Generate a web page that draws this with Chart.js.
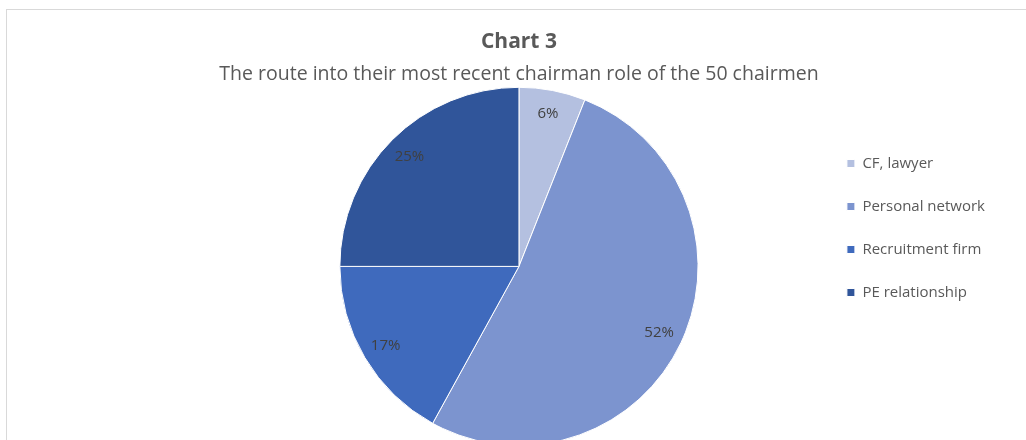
<!DOCTYPE html>
<html>
<head>
<meta charset="utf-8">
<script src="https://cdn.jsdelivr.net/npm/chart.js@4/dist/chart.umd.min.js"></script>
<style>
  html, body { margin: 0; padding: 0; background: #fff; overflow: hidden; }
  #wrap { position: relative; width: 1026px; height: 446px; }
  #frame {
    position: absolute; left: 6px; top: 9px; right: 0; bottom: 0;
    border-top: 1px solid #d9d9d9; border-left: 1px solid #d9d9d9;
    pointer-events: none;
  }
</style>
</head>
<body>
<div id="wrap">
  <canvas id="chart" width="1026" height="446"></canvas>
  <div id="frame"></div>
</div>
<script>
const categories = ['CF, lawyer', 'Personal network', 'Recruitment firm', 'PE relationship'];
const shares = [6, 52, 17, 25];
const sliceColors = ['#b4c0e0', '#7c94cf', '#3f6abd', '#30559a'];

const FONT = '"Open Sans", Lato, sans-serif';

// percentage labels inside each slice, like Excel's "best fit"
const sliceLabels = {
    id: 'sliceLabels',
    afterDatasetsDraw(chart) {
        const { ctx } = chart;
        const meta = chart.getDatasetMeta(0);
        ctx.save();
        ctx.font = '15px ' + FONT;
        ctx.fillStyle = '#404040';
        ctx.textAlign = 'center';
        ctx.textBaseline = 'middle';
        meta.data.forEach((arc, i) => {
            const { x, y, startAngle, endAngle, outerRadius } = arc.getProps(
                ['x', 'y', 'startAngle', 'endAngle', 'outerRadius'], true);
            const mid = (startAngle + endAngle) / 2;
            const r = outerRadius * 0.865;
            ctx.fillText(shares[i] + '%', x + Math.cos(mid) * r, y + Math.sin(mid) * r);
        });
        ctx.restore();
    }
};

new Chart(document.getElementById('chart'), {
    type: 'pie',
    data: {
        labels: categories,
        datasets: [{
            data: shares,
            backgroundColor: sliceColors,
            borderColor: '#ffffff',
            borderWidth: 1,
        }],
    },
    options: {
        responsive: false,
        animation: false,
        layout: { padding: { left: 219, right: 31, top: 10, bottom: 0 } },
        plugins: {
            title: {
                display: true,
                fullSize: false,
                text: 'Chart 3',
                color: '#595959',
                font: { family: FONT, size: 21, weight: 'bold' },
                padding: { top: 19, bottom: 5 },
            },
            subtitle: {
                display: true,
                fullSize: false,
                text: 'The route into their most recent chairman role of the 50 chairmen',
                color: '#595959',
                font: { family: FONT, size: 19.5 },
                padding: { top: 4, bottom: 0.2 },
            },
            legend: {
                position: 'right',
                align: 'center',
                labels: {
                    boxWidth: 8,
                    boxHeight: 8,
                    padding: 28,
                    color: '#595959',
                    font: { family: FONT, size: 15 },
                },
            },
            tooltip: { enabled: false },
        },
    },
    plugins: [sliceLabels],
});
</script>
</body>
</html>
